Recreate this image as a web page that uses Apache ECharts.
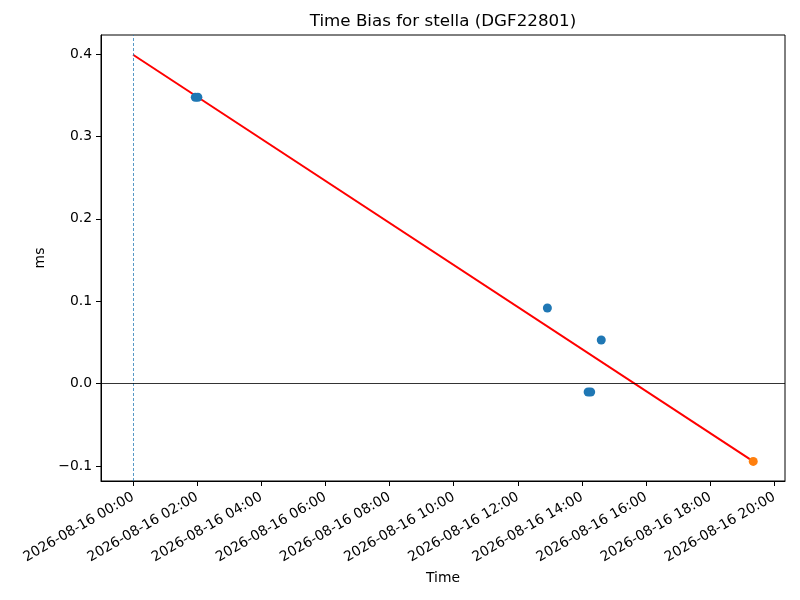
<!DOCTYPE html>
<html lang="en">
<head>
<meta charset="UTF-8">
<title>Time Bias for stella</title>
</head>
<body style="margin: 0;">
<div id="main" style="width: 800px; height: 600px;"></div>

<script src="https://cdn.jsdelivr.net/npm/echarts@6/dist/echarts.min.js"></script>
<script>
// x values are hours after 2026-08-16 00:00, y values are bias in ms
var day = '2026-08-16';
var normalHours = [1.94, 2.02, 12.92, 14.19, 14.27, 14.60];
var normalBias = [0.3475, 0.3475, 0.0918, -0.0100, -0.0100, 0.0530];
var lastHours = [19.34];
var lastBias = [-0.0942];
var fitHours = [0, 19.34];
var fitBias = [0.399, -0.0942];
var xTicks = [0, 2, 4, 6, 8, 10, 12, 14, 16, 18, 20];
var yTicks = [-0.1, 0.0, 0.1, 0.2, 0.3, 0.4];

function pairs(xs, ys) {
    return xs.map(function (x, i) { return [x, ys[i]]; });
}

function hourLabel(h) {
    var hh = h < 10 ? '0' + h : '' + h;
    return day + ' ' + hh + ':00';
}

var font = 'DejaVu Sans';
var myChart = echarts.init(document.getElementById('main'));

option = {
    animation: false,
    backgroundColor: '#fff',
    textStyle: { fontFamily: font },
    title: {
        text: 'Time Bias for stella (DGF22801)',
        left: 443,
        top: 13,
        padding: 0,
        textAlign: 'center',
        textStyle: { fontFamily: font, fontSize: 16.7, fontWeight: 'normal', color: '#000' }
    },
    grid: {
        left: 101,
        right: 15,
        top: 35,
        bottom: 119,
        show: true,
        borderColor: '#000',
        borderWidth: 1
    },
    xAxis: {
        type: 'value',
        min: -1.0,
        max: 20.33,
        name: 'Time',
        nameLocation: 'middle',
        nameGap: 90,
        nameTextStyle: { fontFamily: font, fontSize: 13.9, color: '#000' },
        axisLine: { show: true, onZero: false, lineStyle: { color: '#000', width: 1 } },
        axisTick: { show: true, length: 5, customValues: xTicks, lineStyle: { color: '#000' } },
        axisLabel: {
            customValues: xTicks,
            rotate: 30,
            margin: 15,
            color: '#000',
            fontFamily: font,
            fontSize: 13.9,
            formatter: function (v) { return hourLabel(Math.round(v)); }
        },
        splitLine: { show: false }
    },
    yAxis: {
        type: 'value',
        min: -0.118,
        max: 0.423,
        name: 'ms',
        nameLocation: 'middle',
        nameRotate: 90,
        nameGap: 46,
        nameTextStyle: { fontFamily: font, fontSize: 13.9, color: '#000' },
        axisLine: { show: true, onZero: false, lineStyle: { color: '#000', width: 1 } },
        axisTick: { show: true, length: 5, customValues: yTicks, lineStyle: { color: '#000' } },
        axisLabel: {
            customValues: yTicks,
            margin: 9,
            color: '#000',
            fontFamily: font,
            fontSize: 13.9,
            formatter: function (v) { return v.toFixed(1).replace('-', '\u2212'); }
        },
        splitLine: { show: false }
    },
    series: [
        {
            name: 'fit',
            type: 'line',
            data: pairs(fitHours, fitBias),
            showSymbol: false,
            symbol: 'none',
            lineStyle: { color: '#ff0000', width: 2 },
            z: 3,
            markLine: {
                silent: true,
                symbol: 'none',
                label: { show: false },
                animation: false,
                data: [
                    { xAxis: 0, lineStyle: { color: '#1f77b4', width: 1, type: [3, 2], opacity: 0.75 } },
                    { yAxis: 0, lineStyle: { color: '#000', width: 0.8, type: 'solid' } }
                ]
            }
        },
        {
            name: 'bias',
            type: 'scatter',
            data: pairs(normalHours, normalBias),
            symbolSize: 9,
            itemStyle: { color: '#1f77b4', opacity: 1 },
            z: 4
        },
        {
            name: 'latest',
            type: 'scatter',
            data: pairs(lastHours, lastBias),
            symbolSize: 9,
            itemStyle: { color: '#ff7f0e', opacity: 1 },
            z: 4
        }
    ]
};

myChart.setOption(option);
</script>
</body>
</html>
